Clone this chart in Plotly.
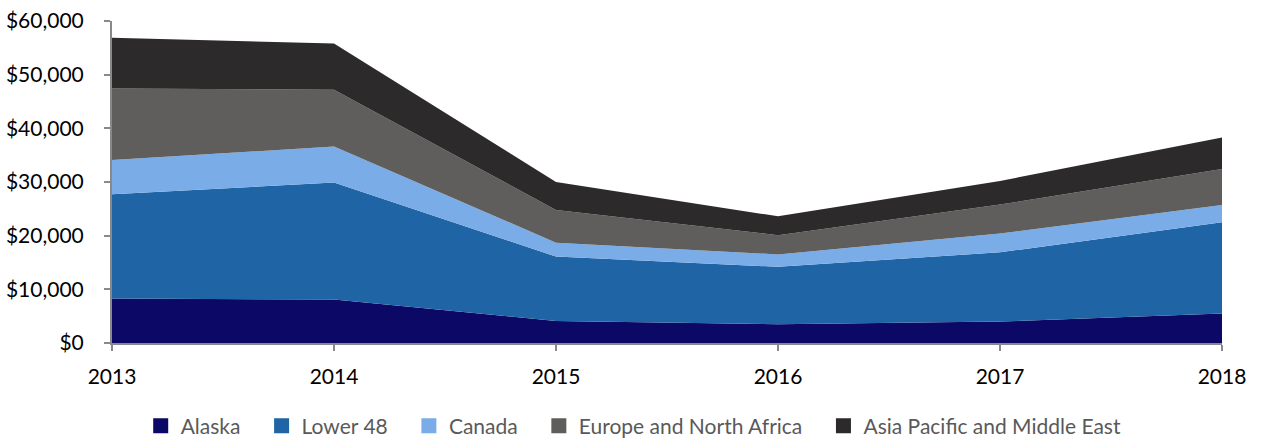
import plotly.graph_objects as go

years = [2013, 2014, 2015, 2016, 2017, 2018]
alaska = [8300, 8100, 4100, 3500, 4000, 5500]
lower48 = [19400, 21800, 12000, 10700, 12900, 17000]
canada = [6400, 6700, 2600, 2300, 3500, 3200]
europe = [13300, 10600, 6100, 3600, 5400, 6700]
asia = [9500, 8600, 5200, 3500, 4400, 5900]

series = [
    ("Alaska", alaska, "#0B0965"),
    ("Lower 48", lower48, "#1F64A4"),
    ("Canada", canada, "#7AADE8"),
    ("Europe and North Africa", europe, "#5F5E5D"),
    ("Asia Pacific and Middle East", asia, "#2C2A2B"),
]

fig = go.Figure()
for name, vals, col in series:
    fig.add_trace(go.Scatter(
        x=years, y=vals, name=name, mode="lines",
        stackgroup="one", line=dict(width=0, color=col),
        fillcolor=col, showlegend=False, hoverinfo="x+y+name",
    ))
# legend entries with square markers
pad = "\u00a0\u00a0\u00a0"
for i, (name, vals, col) in enumerate(series):
    label = name + (pad if i < len(series) - 1 else "")
    fig.add_trace(go.Scatter(
        x=[None], y=[None], name=label, mode="markers",
        marker=dict(symbol="square", size=15, color=col), showlegend=True,
    ))

font_family = "Lato, 'Open Sans', sans-serif"
fig.update_layout(
    width=1261, height=438,
    margin=dict(l=112, r=39, t=21, b=95, autoexpand=False),
    plot_bgcolor="white", paper_bgcolor="white",
    font=dict(family=font_family, size=21, color="#000000"),
    showlegend=True,
    legend=dict(orientation="h", x=0.47, xanchor="center", y=-0.258, yanchor="middle",
                font=dict(size=21, color="#595959"), traceorder="normal",
                itemwidth=30, bgcolor="rgba(0,0,0,0)"),
    xaxis=dict(range=[2013, 2018], tickvals=years, ticktext=[str(y) for y in years],
               showgrid=False, zeroline=False, showline=True, linecolor="#898989", linewidth=2,
               ticks="outside", ticklen=6, tickcolor="#898989", tickwidth=2,
               ticklabelstandoff=8,
               tickfont=dict(size=21, color="#000000"), automargin=False),
    yaxis=dict(range=[0, 60000], dtick=10000, tickprefix="$", tickformat=",",
               showgrid=False, zeroline=False, showline=True, linecolor="#898989", linewidth=2,
               ticks="outside", ticklen=6, tickcolor="#898989", tickwidth=2,
               ticklabelstandoff=16,
               tickfont=dict(size=21, color="#000000"), automargin=False),
)

fig.write_html("out.html", config={"displayModeBar": False},
               post_script="document.body.style.margin='0';document.body.style.overflow='hidden';")
